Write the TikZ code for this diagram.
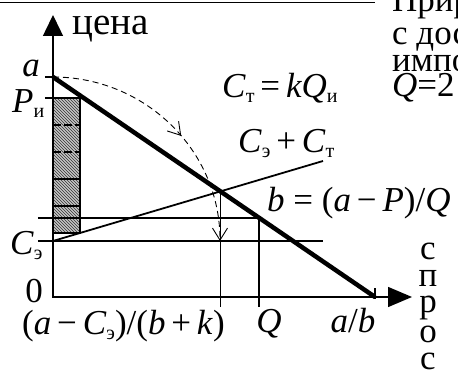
\documentclass[tikz,border=0pt]{standalone}
\usepackage{fontspec}
\setmainfont{Liberation Serif}
\usepackage{tikz}
\usetikzlibrary{arrows.meta, patterns, calc, decorations.markings}
\newcommand{\lowi}[1]{\raisebox{-0.14em}{\fontsize{20}{20}\selectfont #1}}
\tikzset{
  axis/.style={line width=1.4pt, {Triangle[length=21pt,width=20pt]}-{Triangle[length=24pt,width=20pt]}},
  demand/.style={line width=4.5pt},
  thinline/.style={line width=1.8pt},
  hatchbox/.style={draw, line width=1.8pt, preaction={fill=gray!45},
    pattern=north west lines, pattern color=black!80},
  dashline/.style={line width=1.8pt, dash pattern=on 8pt off 3pt},
  curvearrow/.style={line width=0.9pt, dash pattern=on 6pt off 4pt,
    -{Straight Barb[length=12pt,width=15pt,line width=0.9pt]},
    postaction={decorate, decoration={markings,
      mark=at position 0.56 with {\arrow{Straight Barb[length=12pt,width=15pt,line width=0.9pt]}}}}},
  lbl/.style={inner sep=0pt, font=\fontsize{35}{38}\selectfont},
  biglbl/.style={inner sep=0pt, font=\fontsize{39}{42}\selectfont},
  sidetext/.style={inner sep=0pt, anchor=base west, font=\fontsize{35}{38}\selectfont}
}

\begin{document}
\begin{tikzpicture}[x=1pt,y=1pt]
  \useasboundingbox (-53,-74) rectangle (405,297);
  \clip (-53,-74) rectangle (405,297);
  % page text cut off by the frame
  \draw[thinline] (-53,294.5) -- (322,294.5);
  \node[sidetext] (txtA) at (339,285) {Прир};
  \node[sidetext] (txtB) at (339,252) {с дос};
  \node[sidetext] (txtC) at (339,225) {импо};
  \node[sidetext] (txtD) at (339,200) {\textit{Q}=2};
  % main points
  \coordinate (O) at (0,0);
  \coordinate (ytip) at (0,282);
  \coordinate (xtip) at (359,0);
  \coordinate (A) at (0,220);
  \coordinate (AB) at (322,0);
  \coordinate (Ce) at (0,56);
  \coordinate (CeL) at (-15,56);
  \coordinate (CeR) at (270,56);
  \coordinate (CtR) at (270,136);
  \coordinate (Pl) at (-15,79);
  \coordinate (Pr) at (300,79);
  \coordinate (E) at (intersection of A--AB and Ce--CtR);
  \coordinate (Qp) at (intersection of A--AB and Pl--Pr);
  \coordinate (Ebot) at ($(E|-O)+(0,-10)$);
  \coordinate (Qbot) at ($(Qp|-O)+(0,-10)$);
  % hatched block between P_i and C_e
  \draw[hatchbox] (0,64) rectangle (27,199);
  \draw[dashline] (0,172) -- (27,172);
  \draw[dashline] (0,145) -- (27,145);
  \draw[thinline] (0,118) -- (27,118);
  \draw[thinline] (0,91) -- (27,91);
  % axes
  \draw[axis] (ytip) -- (O) -- (xtip);
  % levels and ticks
  \draw[thinline] (-8,220) -- (A);
  \draw[thinline] (-8,199) -- (27,199);
  \draw[thinline] (322,-2) -- (322,9);
  \draw[thinline] (Pl) -- (Qp);
  \draw[thinline] (CeL) -- (CeR);
  \draw[thinline] (Ce) -- (CtR);
  \draw[thinline] (E) -- (Ebot);
  \draw[thinline] (Qp) -- (Qbot);
  % demand line
  \draw[demand] (A) -- (AB);
  % dashed arc from a down to the C_e level
  \draw[curvearrow] (A) arc[start angle=90, end angle=0, x radius=167, y radius=164];
  % labels
  \node[biglbl, anchor=base west] (price) at (19,262) {цена};
  \node[lbl, anchor=base east] (lA) at (-13,220) {\textit{a}};
  \node[lbl, anchor=base west] (lP) at (-41,184) {\textit{P}\lowi{и}};
  \node[lbl, anchor=base west] (lCe) at (-43,42) {\textit{C}\lowi{э}};
  \node[lbl, anchor=base east] (lZero) at (-10,-6) {0};
  \node[lbl, anchor=base west] (lCt) at (169,199) {\textit{C}\lowi{т}\,=\,\textit{kQ}\lowi{и}};
  \node[lbl, anchor=base west] (lSum) at (185,144) {\textit{C}\lowi{э}\,+\,\textit{C}\lowi{т}};
  \node[lbl, anchor=base west] (lB) at (214,85) {\textit{b} = (\textit{a}\,−\,\textit{P})/\textit{Q}};
  \node[lbl, anchor=base west] (lE) at (-31,-38) {(\textit{a}\,−\,\textit{C}\lowi{э})/(\textit{b}\,+\,\textit{k})};
  \node[lbl, anchor=base] (lQ) at (216,-36) {\textit{Q}};
  \node[lbl, anchor=base] (lAB) at (300,-36) {\textit{a}/\textit{b}};
  \foreach \ch/\yy in {с/37, п/10, р/-16, о/-46, с/-73}
    \node[lbl, anchor=base] at (375,\yy) {\ch};
\end{tikzpicture}
\end{document}
